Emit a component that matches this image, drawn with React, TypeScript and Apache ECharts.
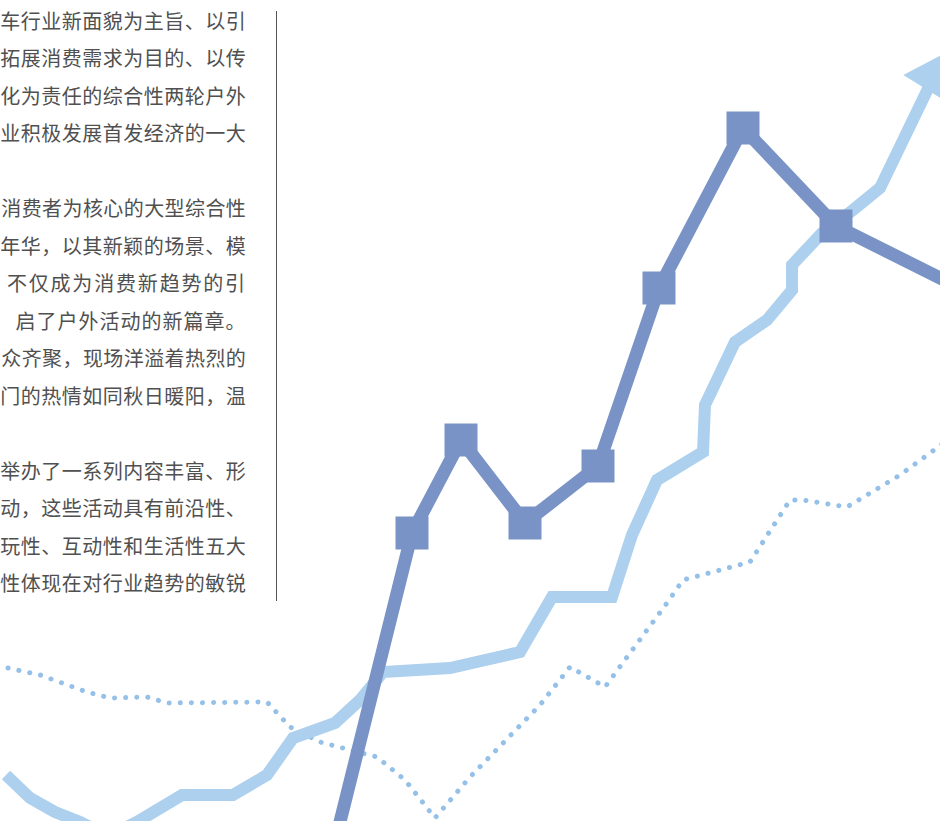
import React, { useEffect, useRef } from "react";
import * as echarts from "echarts";

// Text lines (left column, cropped article)
const textLines: string[] = [
  "车行业新面貌为主旨、以引",
  "拓展消费需求为目的、以传",
  "化为责任的综合性两轮户外",
  "业积极发展首发经济的一大",
  "",
  "消费者为核心的大型综合性",
  "年华，以其新颖的场景、模",
  "不仅成为消费新趋势的引",
  "启了户外活动的新篇章。",
  "众齐聚，现场洋溢着热烈的",
  "门的热情如同秋日暖阳，温",
  "",
  "举办了一系列内容丰富、形",
  "动，这些活动具有前沿性、",
  "玩性、互动性和生活性五大",
  "性体现在对行业趋势的敏锐",
];
// left edge where each justified line begins
const textStarts: number[] = [0, 0, 0, 0, 0, 1, 0, 6, 15, 1, 0, 0, 0, 0, 0, 0];

// Dark series with square markers (x, y on a 0-940 / 0-821 top-down scale)
const darkX = [333, 412, 461, 525, 598, 659, 743, 836, 960];
const darkY = [850, 533, 440, 523, 466, 288, 128, 226, 288];

// Light solid series
const lightX = [6, 30, 55, 80, 108, 137, 182, 233, 267, 293, 335, 360, 383, 450, 520, 552, 612, 632, 657, 703, 705, 735, 767, 792, 792, 822, 853, 880, 937];
const lightY = [775, 798, 812, 822, 836, 822, 795, 795, 775, 738, 723, 700, 672, 668, 652, 597, 597, 535, 480, 452, 405, 342, 320, 290, 265, 233, 210, 188, 70];

// Dotted series
const dotX = [8, 40, 87, 110, 147, 167, 267, 290, 320, 377, 405, 435, 470, 540, 570, 605, 667, 683, 750, 790, 803, 847, 900, 945];
const dotY = [668, 675, 692, 698, 697, 703, 702, 727, 742, 757, 780, 818, 777, 705, 667, 687, 603, 580, 562, 500, 500, 507, 475, 442];

const RIGHT_EDGE = 246;

export default function App() {
  const ref = useRef<HTMLDivElement>(null);
  useEffect(() => {
    if (!ref.current) return;
    const chart = echarts.init(ref.current, undefined, { renderer: "svg" });

    const darkData = darkX.map((x, i) => {
      const end = i === 0 || i === darkX.length - 1;
      return end ? { value: [x, darkY[i]], symbol: "none" } : { value: [x, darkY[i]] };
    });
    const lightData = lightX.map((x, i) => {
      const last = i === lightX.length - 1;
      return last
        ? { value: [x, lightY[i]], symbol: "triangle", symbolSize: [52, 44], symbolRotate: -32 }
        : { value: [x, lightY[i]] };
    });
    const dotData = dotX.map((x, i) => [x, dotY[i]]);

    const textGraphics: any[] = [];
    textLines.forEach((line, li) => {
      const chars = Array.from(line);
      if (!chars.length) return;
      const start = textStarts[li];
      const adv = (RIGHT_EDGE - start) / chars.length;
      chars.forEach((ch, ci) => {
        textGraphics.push({
          type: "text",
          x: start + ci * adv + adv / 2,
          y: 20 + li * 37.5,
          silent: true,
          style: {
            text: ch,
            fill: "#505050",
            fontSize: 20,
            fontFamily: "Noto Sans CJK SC",
            align: "center",
            verticalAlign: "middle",
          },
        });
      });
    });

    chart.setOption({
      animation: false,
      backgroundColor: "#ffffff",
      grid: { left: 0, right: 0, top: 0, bottom: 0 },
      xAxis: { type: "value", min: 0, max: 940, show: false },
      yAxis: { type: "value", min: 0, max: 821, inverse: true, show: false },
      graphic: [
        ...textGraphics,
        {
          type: "line",
          silent: true,
          shape: { x1: 276.5, y1: 11, x2: 276.5, y2: 601 },
          style: { stroke: "#555555", lineWidth: 1 },
        },
      ],
      series: [
        {
          type: "line",
          data: dotData,
          showSymbol: false,
          z: 1,
          lineStyle: { color: "#95c0e8", width: 5, type: [0.1, 11], cap: "round" },
        },
        {
          type: "line",
          data: lightData,
          symbol: "none",
          z: 2,
          itemStyle: { color: "#acd0ee" },
          lineStyle: { color: "#acd0ee", width: 12, join: "miter" },
        },
        {
          type: "line",
          data: darkData,
          symbol: "rect",
          symbolSize: 33,
          z: 3,
          itemStyle: { color: "#7a93c6" },
          lineStyle: { color: "#7a93c6", width: 13 },
        },
      ],
    });
    return () => chart.dispose();
  }, []);
  return (
    <div
      ref={ref}
      style={{ position: "fixed", left: 0, top: 0, width: 940, height: 821 }}
    />
  );
}
